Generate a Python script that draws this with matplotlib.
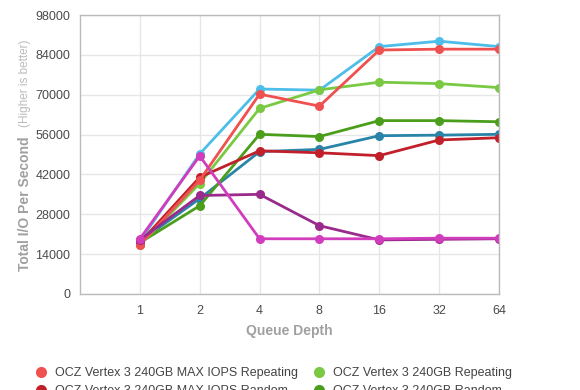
import matplotlib.pyplot as plt
from matplotlib.lines import Line2D

plt.rcParams['font.family'] = ['Liberation Sans', 'DejaVu Sans']

queue_depths = ['1', '2', '4', '8', '16', '32', '64']
y_ticks = [0, 14000, 28000, 42000, 56000, 70000, 84000, 98000]

# series, drawn bottom to top
light_blue = [18500, 49200, 72000, 71600, 86900, 88800, 86900]
teal_blue = [18500, 33500, 50000, 50800, 55600, 55800, 56100]
random_240 = [18000, 31000, 56100, 55300, 60900, 60900, 60500]
repeating_240 = [17200, 38800, 65200, 71700, 74400, 73900, 72500]
maxiops_random = [18000, 41000, 50300, 49600, 48600, 54100, 54900]
maxiops_repeating = [17300, 40000, 70200, 66000, 85700, 86000, 86000]
purple = [19000, 34600, 35000, 24000, 19000, 19200, 19400]
magenta = [19400, 48500, 19400, 19400, 19400, 19600, 19600]

series = [
    (light_blue, '#4dbde9'),
    (teal_blue, '#2a84a8'),
    (random_240, '#4b9e1b'),
    (repeating_240, '#7ac943'),
    (maxiops_random, '#c1202a'),
    (maxiops_repeating, '#ef5050'),
    (purple, '#9a2b8c'),
    (magenta, '#d13dbd'),
]

legend_names = ['OCZ Vertex 3 240GB MAX IOPS Repeating',
                'OCZ Vertex 3 240GB MAX IOPS Random',
                'OCZ Vertex 3 240GB Repeating',
                'OCZ Vertex 3 240GB Random']
legend_colors = ['#ef5050', '#c1202a', '#7ac943', '#4b9e1b']

fig = plt.figure(figsize=(5.8, 3.9), dpi=100)
ax = fig.add_axes([80 / 580, 1 - 294 / 390, 419 / 580, 279 / 390])

x = list(range(1, len(queue_depths) + 1))
for values, color in series:
    ax.plot(x, values, color=color, lw=2, marker='o', ms=6.5,
            markeredgewidth=0, solid_capstyle='round')

ax.set_xlim(0, 7)
ax.set_ylim(0, 98000)
ax.set_xticks(x)
ax.set_xticklabels(queue_depths)
ax.set_yticks(y_ticks)
ax.set_yticklabels([str(v) for v in y_ticks])
ax.tick_params(length=0, labelsize=9, labelcolor='#4a4a4a')
ax.tick_params(axis='x', pad=8)
ax.tick_params(axis='y', pad=7)
ax.grid(True, color='#e6e6e6', lw=1)
ax.set_axisbelow(True)
for sp in ax.spines.values():
    sp.set_color('#bbbbbb')
    sp.set_linewidth(1)

fig.text(289.5 / 580, 1 - 331 / 390, 'Queue Depth', ha='center', va='center',
         fontsize=10, fontweight='bold', color='#a0a0a0')
fig.text(25 / 580, 1 - 271 / 390, 'Total I/O Per Second', rotation=90,
         ha='center', va='bottom', fontsize=10, fontweight='bold', color='#a0a0a0')
fig.text(25 / 580, 1 - 127 / 390, '(Higher is better)', rotation=90,
         ha='center', va='bottom', fontsize=8.5, color='#bbbbbb')

handles = [Line2D([], [], ls='none', marker='o', ms=8, markeredgewidth=0, color=c)
           for c in legend_colors]
fig.legend(handles, legend_names, ncol=2, loc='upper left',
           bbox_to_anchor=(30 / 580, 1 - 362 / 390), frameon=False,
           fontsize=9, labelcolor='#444444', handlelength=1, handletextpad=0.6,
           columnspacing=1.2, labelspacing=0.5, borderaxespad=0)

fig.savefig('out.png', dpi=100)
